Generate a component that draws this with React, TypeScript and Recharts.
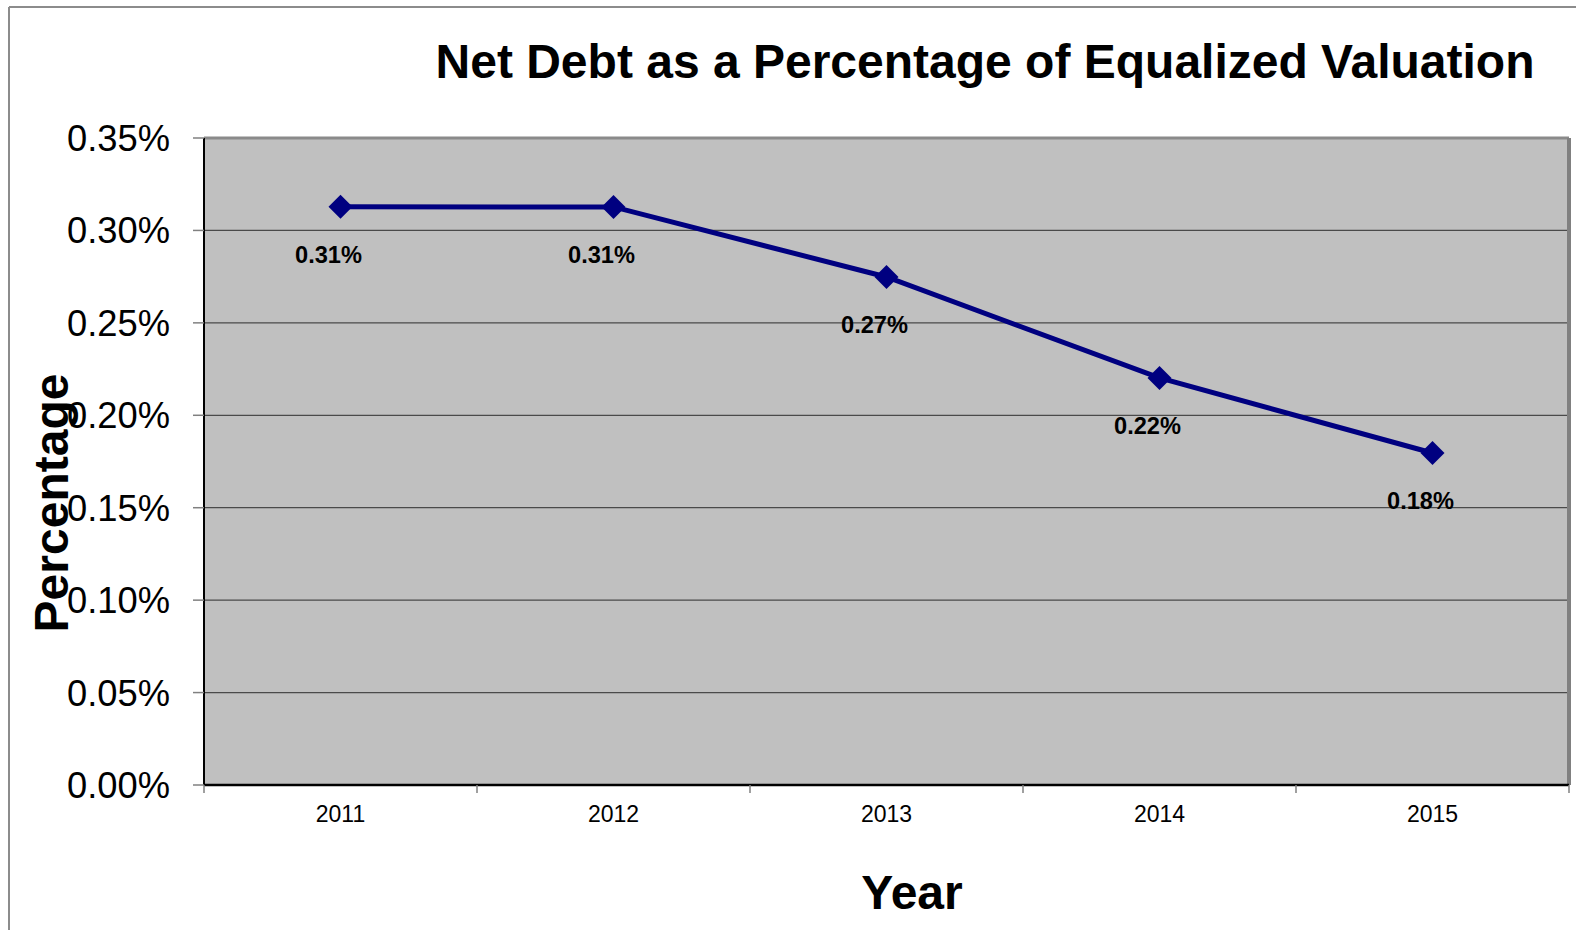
import { LineChart, Line, XAxis, YAxis, CartesianGrid, LabelList, ReferenceLine } from 'recharts';

const years = ['2011', '2012', '2013', '2014', '2015'];
const netDebtPct = [0.003128, 0.003127, 0.002748, 0.002202, 0.001796];
const yTicks = [0, 0.0005, 0.001, 0.0015, 0.002, 0.0025, 0.003, 0.0035];
// x ticks: whole numbers are band edges (tick marks), halves are band centres (year labels)
const xTicks = [0, 0.5, 1, 1.5, 2, 2.5, 3, 3.5, 4, 4.5, 5];

const FONT = '"Liberation Sans", Arial, sans-serif';

const fmtPct = (v: number) => `${(v * 100).toFixed(2)}%`;

// Excel drew these a bit taller than wide, squeeze width with textLength
function YTick({ x, y, payload }: any) {
  return (
    <text
      x={x}
      y={y + 13}
      textAnchor="end"
      fontFamily={FONT}
      fontSize={36}
      textLength={103}
      lengthAdjust="spacingAndGlyphs"
      fill="#000"
    >
      {fmtPct(payload.value)}
    </text>
  );
}

function XTick({ x, y, payload }: any) {
  const v = payload.value;
  if (Number.isInteger(v)) {
    return <line x1={x} y1={y} x2={x} y2={y + 8} stroke="#808080" strokeWidth={1.5} />;
  }
  return (
    <text x={x} y={y + 37} textAnchor="middle" fontFamily={FONT} fontSize={23} fill="#000">
      {years[Math.floor(v)]}
    </text>
  );
}

function Diamond({ cx, cy, index }: any) {
  const r = 12;
  return (
    <polygon
      key={`d-${index}`}
      points={`${cx},${cy - r} ${cx + r},${cy} ${cx},${cy + r} ${cx - r},${cy}`}
      fill="#000080"
    />
  );
}

function PointLabel({ x, y, value, index }: any) {
  return (
    <text
      key={`l-${index}`}
      x={x - 12}
      y={y + 56}
      textAnchor="middle"
      fontFamily={FONT}
      fontSize={24}
      fontWeight="bold"
      textLength={67}
      lengthAdjust="spacingAndGlyphs"
      fill="#000"
    >
      {fmtPct(value)}
    </text>
  );
}

export default function App() {
  const chartData = years.map((year, i) => ({ year, pos: i + 0.5, value: netDebtPct[i] }));

  return (
    <div style={{ position: 'absolute', left: 0, top: 0, width: 1576, height: 930, background: '#fff' }}>
      <LineChart
        width={1576}
        height={930}
        data={chartData}
        margin={{ top: 138, right: 7, bottom: 85, left: 64 }}
      >
        <CartesianGrid vertical={false} fill="#C0C0C0" stroke="#4a4a4a" strokeWidth={1.2} />
        <XAxis
          dataKey="pos"
          type="number"
          domain={[0, 5]}
          ticks={xTicks}
          interval={0}
          height={60}
          tickSize={0}
          tickMargin={0}
          tickLine={false}
          tick={<XTick />}
          axisLine={{ stroke: '#000', strokeWidth: 2.5 }}
        />
        <YAxis
          width={140}
          domain={[0, 0.0035]}
          ticks={yTicks}
          tickSize={11}
          tickMargin={23}
          tickLine={{ stroke: '#808080', strokeWidth: 1.5 }}
          axisLine={{ stroke: '#000', strokeWidth: 2 }}
          tick={<YTick />}
        />
        <ReferenceLine y={0.0035} stroke="#8a8a8a" strokeWidth={3} />
        <ReferenceLine x={5} stroke="#808080" strokeWidth={4} />
        <Line
          dataKey="value"
          stroke="#000080"
          strokeWidth={5}
          dot={<Diamond />}
          activeDot={false}
          isAnimationActive={false}
        >
          <LabelList dataKey="value" content={<PointLabel />} />
        </Line>
      </LineChart>
      <svg
        width={1576}
        height={930}
        style={{ position: 'absolute', left: 0, top: 0, pointerEvents: 'none' }}
      >
        <line x1={9} y1={7} x2={1576} y2={7} stroke="#8c8c8c" strokeWidth={2} />
        <line x1={9} y1={7} x2={9} y2={930} stroke="#8c8c8c" strokeWidth={2} />
        <text x={985} y={78} textAnchor="middle" fontFamily={FONT} fontSize={48} fontWeight="bold" fill="#000">
          Net Debt as a Percentage of Equalized Valuation
        </text>
        <text x={912} y={909} textAnchor="middle" fontFamily={FONT} fontSize={48} fontWeight="bold" fill="#000">
          Year
        </text>
        <text
          transform="translate(68,503) rotate(-90)"
          textAnchor="middle"
          fontFamily={FONT}
          fontSize={48}
          fontWeight="bold"
          fill="#000"
        >
          Percentage
        </text>
      </svg>
    </div>
  );
}
